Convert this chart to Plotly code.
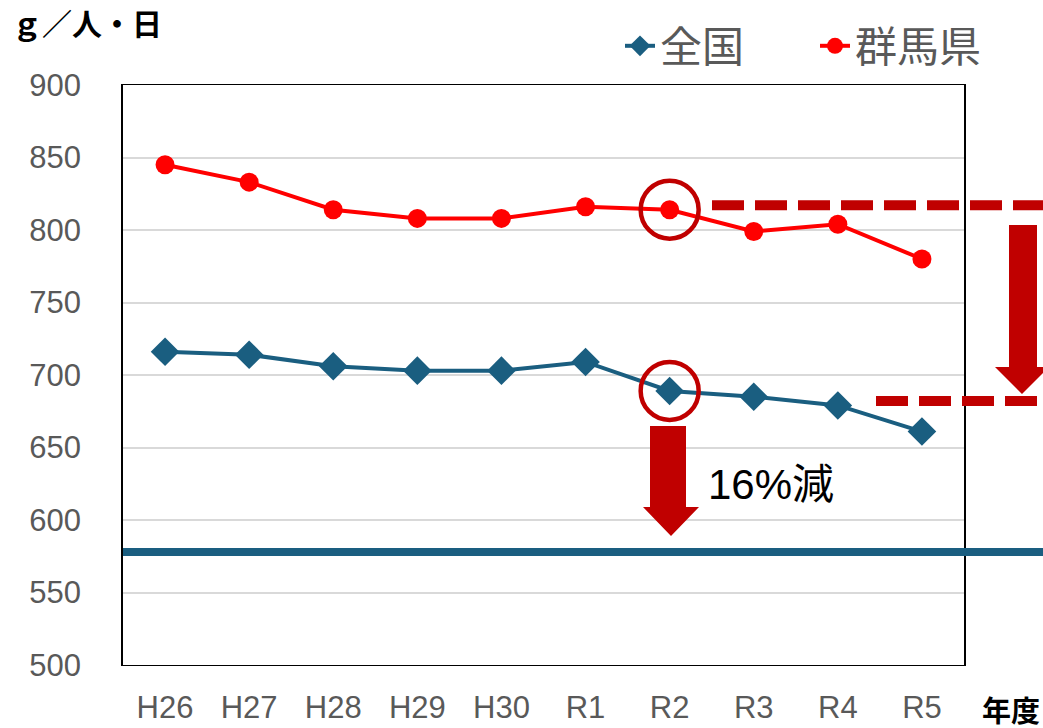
import plotly.graph_objects as go

years = ["H26", "H27", "H28", "H29", "H30", "R1", "R2", "R3", "R4", "R5"]
zenkoku = [716, 714, 706, 703, 703, 709, 689, 685, 679, 661]
gunma = [845, 833, 814, 808, 808, 816, 814, 799, 804, 780]
target = 578
gunma_ref = 817
target_ref = 682

W, H = 1043, 728
L, R, T, B = 123, 79, 85, 63
PW, PH = W - L - R, H - T - B
YMIN, YMAX = 500, 900

def px(x):
    return (x - L) / PW

def py(y):
    return (H - B - y) / PH

def vy(v):
    return (v - YMIN) / (YMAX - YMIN)

def cx(i):
    return (i + 0.5) / len(years)

BLUE = "#1A5E80"
RED = "#FF0000"
DARK = "#C00000"
FONT = "Liberation Sans, Noto Sans CJK JP, sans-serif"

fig = go.Figure()
fig.add_trace(go.Scatter(
    x=years, y=zenkoku, name="全国", mode="lines+markers",
    line=dict(color=BLUE, width=4),
    marker=dict(symbol="diamond", size=22, color=BLUE)))
fig.add_trace(go.Scatter(
    x=years, y=gunma, name="群馬県", mode="lines+markers",
    line=dict(color=RED, width=4),
    marker=dict(symbol="circle", size=19, color=RED)))

shapes = []
shapes.append(dict(type="line", xref="paper", yref="paper",
                   x0=0, x1=px(W + 5), y0=vy(target), y1=vy(target),
                   line=dict(color=BLUE, width=8)))
shapes.append(dict(type="line", xref="paper", yref="paper",
                   x0=px(712), x1=px(W + 5), y0=vy(gunma_ref), y1=vy(gunma_ref),
                   line=dict(color=DARK, width=10, dash="32px,11px")))
shapes.append(dict(type="line", xref="paper", yref="paper",
                   x0=px(876), x1=px(W + 5), y0=vy(target_ref), y1=vy(target_ref),
                   line=dict(color=DARK, width=10, dash="32px,11px")))
ri = years.index("R2")
rx = 29 / PW
ry = 29 / PH
for v in (gunma[ri], zenkoku[ri]):
    shapes.append(dict(type="circle", xref="paper", yref="paper",
                       x0=cx(ri) - rx, x1=cx(ri) + rx, y0=vy(v) - ry, y1=vy(v) + ry,
                       line=dict(color=DARK, width=4.5)))

def arrow(xl, xr, hl, hr, tip_x, top, head_top, tip_y):
    p = (f"M {px(xl)} {py(top)} L {px(xr)} {py(top)} L {px(xr)} {py(head_top)} "
         f"L {px(hr)} {py(head_top)} L {px(tip_x)} {py(tip_y)} L {px(hl)} {py(head_top)} "
         f"L {px(xl)} {py(head_top)} Z")
    return dict(type="path", xref="paper", yref="paper", path=p,
                fillcolor=DARK, line=dict(width=0))

shapes.append(arrow(1009, 1037, 995, 1049, 1022, 225, 367, 394))
shapes.append(arrow(650, 686, 643, 699, 671, 426, 507, 536))

annotations = [
    dict(text="16%減", xref="paper", yref="paper", x=px(706), y=py(484),
         xanchor="left", yanchor="middle", showarrow=False,
         font=dict(size=42, color="#000000", family=FONT)),
    dict(text="<b>ｇ／人・日</b>", xref="paper", yref="paper", x=px(10), y=py(25),
         xanchor="left", yanchor="middle", showarrow=False,
         font=dict(size=30, color="#000000", family=FONT)),
    dict(text="<b>年度</b>", xref="paper", yref="paper", x=px(1042), y=py(712),
         xanchor="right", yanchor="middle", showarrow=False,
         font=dict(size=29, color="#000000", family=FONT)),
]

fig.update_layout(
    width=W, height=H, autosize=False,
    margin=dict(l=L, r=R, t=T, b=B, autoexpand=False),
    paper_bgcolor="white", plot_bgcolor="white",
    font=dict(family=FONT, color="#595959", size=31),
    shapes=shapes, annotations=annotations,
    showlegend=True,
    legend=dict(orientation="h", x=px(620), y=py(12), xanchor="left", yanchor="top",
                font=dict(size=42, color="#595959", family=FONT),
                bgcolor="rgba(0,0,0,0)", entrywidth=150, entrywidthmode="pixels"),
)
fig.update_xaxes(type="category", range=[-0.5, len(years) - 0.5], automargin=False,
                 showline=True, linecolor="black", linewidth=1, mirror=True,
                 showgrid=False, ticks="", ticklabelstandoff=15,
                 tickfont=dict(size=31, color="#595959"))
fig.update_yaxes(range=[YMIN, YMAX], dtick=50, tick0=500, automargin=False,
                 showline=True, linecolor="black", linewidth=1.5, mirror=True,
                 showgrid=True, gridcolor="#D9D9D9", gridwidth=1.5,
                 zeroline=False, ticks="", ticklabelstandoff=34,
                 tickfont=dict(size=31, color="#595959"))

fig.write_html("out.html", config={"displayModeBar": False},
               post_script="document.body.style.margin='0';document.body.style.overflow='hidden';")
